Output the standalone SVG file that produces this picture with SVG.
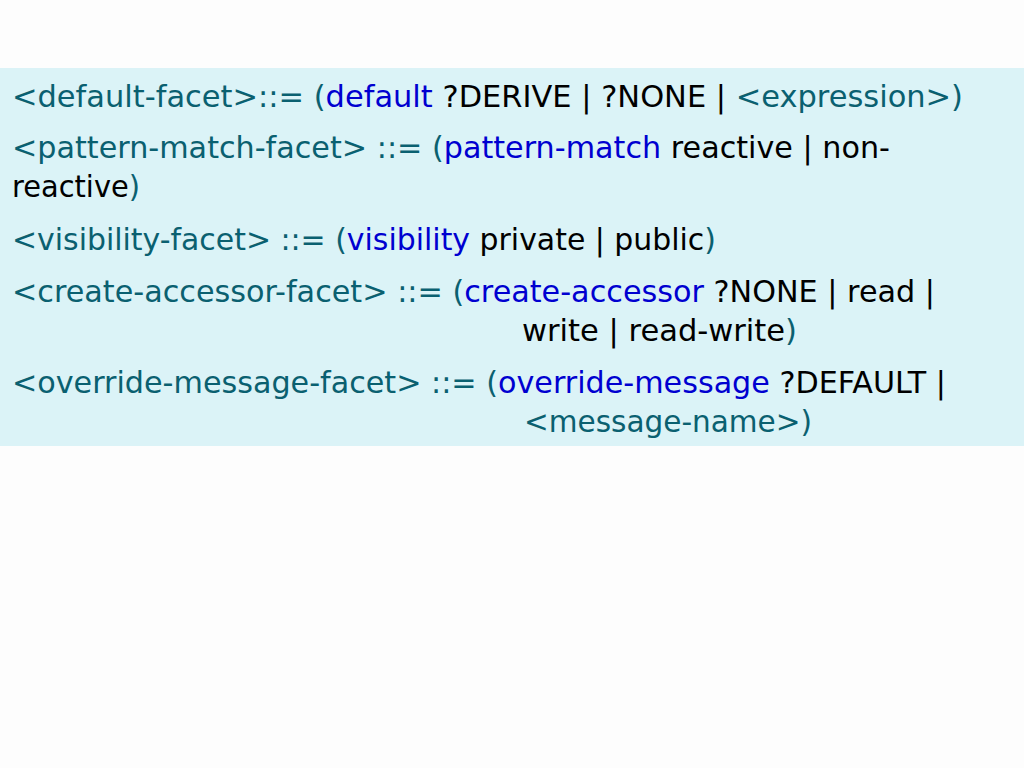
<svg xmlns="http://www.w3.org/2000/svg" width="1024" height="768" viewBox="0 0 1024 768">
<style>
text{font-family:"DejaVu Sans","Liberation Sans",sans-serif;font-size:29.5px;fill:#0a6070}
.k{fill:#0000d0}
.v{fill:#000}
</style>
<rect x="0" y="0" width="1024" height="768" fill="#fdfdfd"/>
<rect x="0" y="68" width="1024" height="378" fill="#dbf3f7"/>
<g id="default-facet">
<text x="12" y="107" textLength="951" lengthAdjust="spacingAndGlyphs">&lt;default-facet&gt;::= (<tspan class="k">default</tspan> <tspan class="v">?DERIVE | ?NONE |</tspan> &lt;expression&gt;)</text>
</g>
<g id="pattern-match-facet">
<text x="12" y="158" textLength="878" lengthAdjust="spacingAndGlyphs">&lt;pattern-match-facet&gt; ::= (<tspan class="k">pattern-match</tspan> <tspan class="v">reactive | non-</tspan></text>
<text x="12" y="197" textLength="128" lengthAdjust="spacingAndGlyphs"><tspan class="v">reactive</tspan>)</text>
</g>
<g id="visibility-facet">
<text x="12" y="250" textLength="704" lengthAdjust="spacingAndGlyphs">&lt;visibility-facet&gt; ::= (<tspan class="k">visibility</tspan> <tspan class="v">private | public</tspan>)</text>
</g>
<g id="create-accessor-facet">
<text x="12" y="302" textLength="923" lengthAdjust="spacingAndGlyphs">&lt;create-accessor-facet&gt; ::= (<tspan class="k">create-accessor</tspan> <tspan class="v">?NONE | read |</tspan></text>
<text x="522" y="341" textLength="275" lengthAdjust="spacingAndGlyphs"><tspan class="v">write | read-write</tspan>)</text>
</g>
<g id="override-message-facet">
<text x="12" y="393" textLength="934" lengthAdjust="spacingAndGlyphs">&lt;override-message-facet&gt; ::= (<tspan class="k">override-message</tspan> <tspan class="v">?DEFAULT |</tspan></text>
<text x="524" y="432" textLength="288" lengthAdjust="spacingAndGlyphs">&lt;message-name&gt;)</text>
</g>
</svg>
